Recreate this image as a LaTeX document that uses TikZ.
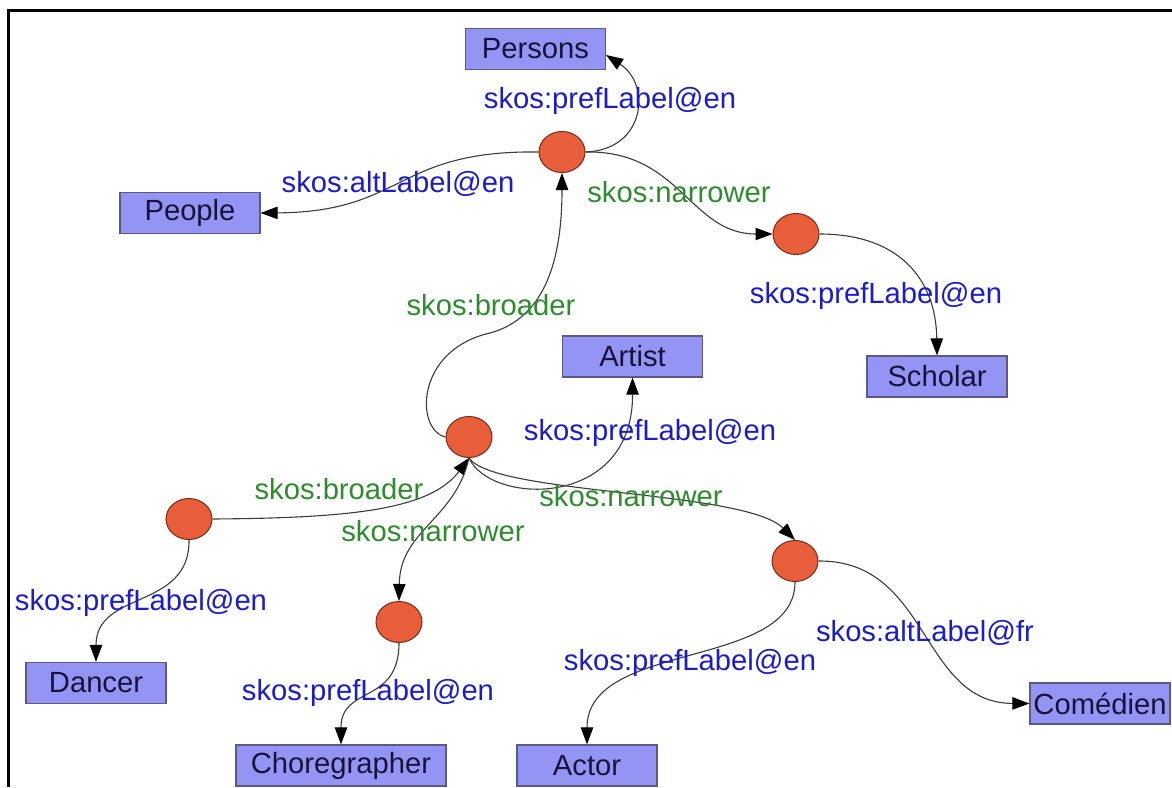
\documentclass[tikz,border=0pt]{standalone}
\usepackage{fontspec}
\setmainfont{Liberation Sans}
\usetikzlibrary{arrows.meta,shapes.geometric}
\definecolor{boxfill}{RGB}{148,148,244}
\definecolor{boxline}{RGB}{90,90,130}
\definecolor{boxtext}{RGB}{20,20,60}
\definecolor{dotfill}{RGB}{232,93,58}
\definecolor{dotline}{RGB}{120,45,25}
\definecolor{lblblue}{RGB}{28,28,204}
\definecolor{lblgreen}{RGB}{46,139,46}
\definecolor{edgecol}{RGB}{60,60,60}
\begin{document}
\begin{tikzpicture}[x=0.5pt,y=-0.5pt,
  concept/.style={ellipse, draw=dotline, fill=dotfill, line width=0.5pt,
    minimum width=23pt, minimum height=20.5pt, inner sep=0pt},
  term/.style={rectangle, draw=boxline, fill=boxfill, line width=0.6pt,
    minimum width=70pt, minimum height=20.5pt, inner sep=0pt, text=boxtext,
    font=\fontsize{14.6pt}{17pt}\selectfont},
  rel/.style={draw=edgecol, line width=0.55pt,
    -{Triangle[length=8.5pt,width=6.2pt,color=black]}},
  lblb/.style={text=lblblue, inner sep=0pt, font=\fontsize{14.6pt}{17pt}\selectfont},
  lblg/.style={text=lblgreen, inner sep=0pt, font=\fontsize{14.6pt}{17pt}\selectfont}
]
\useasboundingbox (0,0) rectangle (1172,787);
\fill[white] (0,0) rectangle (1172,787);
% frame (cropped at right and bottom)
\draw[line width=1.4pt, black] (8.7,787) -- (8.7,10.8) -- (1172,10.8);

% term boxes
\node[term] (persons) at (535.5,49) {Persons};
\node[term] (people) at (190,213) {People};
\node[term] (scholar) at (937,376.5) {Scholar};
\node[term] (artist) at (632.5,356.5) {Artist};
\node[term] (dancer) at (96,683) {Dancer};
\node[term, minimum width=105pt] (chor) at (341,765.5) {Choregrapher};
\node[term] (actor) at (587,765.5) {Actor};
\node[term] (comed) at (1100,703.5) {Comédien};

% concept nodes
\node[concept] (c1) at (562,152) {};
\node[concept] (c2) at (796,234) {};
\node[concept] (c3) at (469,437) {};
\node[concept] (c4) at (189,519) {};
\node[concept] (c5) at (399,622) {};
\node[concept] (c6) at (795,561) {};

% edges
\draw[rel] (c1.east) .. controls (645,150) and (652,85) .. ([yshift=-3pt]persons.east);
\draw[rel] (c1.west) .. controls (395,150) and (405,212) .. (people.east);
\draw[rel] (c1.east) .. controls (680,150) and (690,234) .. (c2.west);
\draw[rel] (c2.east) .. controls (900,234) and (936,280) .. (scholar.north);
\draw[rel] (c3.west) .. controls (415,430) and (415,350) .. (490,333)
   .. controls (545,318) and (562,260) .. (c1.south);
\draw[rel] (c3.south) .. controls (490,505) and (633,510) .. (artist.south);
\draw[rel] (c4.east) .. controls (350,518) and (430,510) .. (c3.south);
\draw[rel] (c3.south) .. controls (455,520) and (400,530) .. (c5.north);
\draw[rel] (c3.south) .. controls (495,495) and (745,490) .. (c6.north);
\draw[rel] (c4.south) .. controls (190,610) and (96,590) .. (dancer.north);
\draw[rel] (c5.south) .. controls (399,705) and (341,685) .. (chor.north);
\draw[rel] (c6.south) .. controls (795,670) and (587,640) .. (actor.north);
\draw[rel] (c6.east) .. controls (930,560) and (920,703) .. (comed.west);

% labels
\node[lblb] (l1) at (610,101) {skos:prefLabel@en};
\node[lblb] (l2) at (398,184) {skos:altLabel@en};
\node[lblg] (l3) at (679,192) {skos:narrower};
\node[lblb] (l4) at (876,296) {skos:prefLabel@en};
\node[lblg] (l5) at (491,305) {skos:broader};
\node[lblb] (l6) at (650,433) {skos:prefLabel@en};
\node[lblg] (l7) at (339,489) {skos:broader};
\node[lblg] (l8) at (631,496) {skos:narrower};
\node[lblg] (l9) at (433,531) {skos:narrower};
\node[lblb] (l10) at (141,603) {skos:prefLabel@en};
\node[lblb] (l11) at (368,693) {skos:prefLabel@en};
\node[lblb] (l12) at (690,663) {skos:prefLabel@en};
\node[lblb] (l13) at (925,633) {skos:altLabel@fr};
\end{tikzpicture}
\end{document}
